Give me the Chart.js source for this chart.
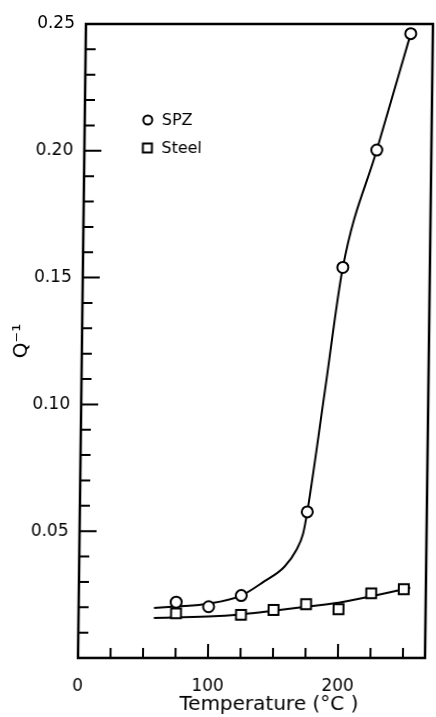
<!DOCTYPE html>
<html>
<head>
<meta charset="utf-8">
<script src="https://cdn.jsdelivr.net/npm/chart.js@4.4.1/dist/chart.umd.min.js"></script>
<style>
  html, body { margin: 0; padding: 0; background: #fff; }
  /* the scanned figure is slightly sheared: top edge sits ~8px right of the bottom */
  #wrap { width: 436px; height: 717px; transform: skewX(-0.72deg); transform-origin: 0 658px; }
</style>
</head>
<body>
<div id="wrap"><canvas id="chart" width="436" height="717"></canvas></div>
<script>
// measured points
const spzTemp = [75, 100, 125, 175, 200, 225, 250];
const spzQ = [0.0220, 0.0202, 0.0246, 0.0576, 0.1540, 0.2003, 0.2462];
const steelTemp = [75, 125, 150, 175, 200, 225, 250];
const steelQ = [0.0176, 0.0170, 0.0189, 0.0212, 0.0192, 0.0255, 0.0271];

// hand-drawn fit curves
const spzFitTemp = [58, 75, 100, 125, 142, 158, 167, 172, 175, 187.5, 200, 225, 250];
const spzFitQ = [0.0197, 0.0203, 0.0214, 0.0246, 0.0300, 0.0360, 0.0426, 0.0490, 0.0576, 0.1057, 0.1540, 0.2003, 0.2462];
const steelFitTemp = [58, 100, 125, 150, 175, 200, 225, 255];
const steelFitQ = [0.0158, 0.0164, 0.0172, 0.0186, 0.0202, 0.0218, 0.0243, 0.0277];

// axes
const xTicks = [0, 25, 50, 75, 100, 125, 150, 175, 200, 225, 250];
const xTickLabels = ['0', '', '', '', '100', '', '', '', '200', '', ''];
const yTicks = [0, 0.01, 0.02, 0.03, 0.04, 0.05, 0.06, 0.07, 0.08, 0.09, 0.10,
  0.11, 0.12, 0.13, 0.14, 0.15, 0.16, 0.17, 0.18, 0.19, 0.20,
  0.21, 0.22, 0.23, 0.24, 0.25];
const yMajor = [0.05, 0.10, 0.15, 0.20, 0.25];

const toXY = (xs, ys) => xs.map((v, i) => ({ x: v, y: ys[i] }));
const isMajorY = v => yMajor.some(m => Math.abs(m - v) < 1e-9);

Chart.defaults.font.family = 'DejaVu Sans';
Chart.defaults.color = '#000';

// frame, inward ticks, legend and x title
const axisMarks = {
  id: 'axisMarks',
  beforeDatasetsDraw(chart) {
    const { ctx, chartArea: a, scales: { x, y } } = chart;
    ctx.save();
    ctx.strokeStyle = '#000';
    ctx.lineWidth = 2.5;
    ctx.strokeRect(a.left, a.top, a.right - a.left, a.bottom - a.top);

    ctx.lineWidth = 2;
    ctx.beginPath();
    x.ticks.forEach((t, i) => {
      if (t.value === 0) return;
      const px = x.getPixelForValue(t.value);
      const len = xTickLabels[i] ? 14 : 10;
      ctx.moveTo(px, a.bottom);
      ctx.lineTo(px, a.bottom - len);
    });
    y.ticks.forEach(t => {
      if (t.value === 0 || t.value >= 0.25) return;
      const py = y.getPixelForValue(t.value);
      const len = isMajorY(t.value) ? 17 : 10;
      ctx.moveTo(a.left, py);
      ctx.lineTo(a.left + len, py);
    });
    ctx.stroke();

    // legend inside the plot, top-left
    const items = chart.data.datasets.filter(d => d.inLegend);
    items.forEach((d, i) => {
      const cx = 141, cy = 120 + i * 28;
      ctx.lineWidth = 2;
      ctx.fillStyle = '#fff';
      ctx.beginPath();
      if (d.pointStyle === 'circle') {
        ctx.arc(cx, cy, 4.5, 0, Math.PI * 2);
      } else {
        ctx.rect(cx - 4.5, cy - 4.5, 9, 9);
      }
      ctx.fill();
      ctx.stroke();
      ctx.fillStyle = '#000';
      ctx.font = '16px "DejaVu Sans"';
      ctx.textAlign = 'left';
      ctx.textBaseline = 'middle';
      ctx.fillText(d.label, cx + 14, cy + 1);
    });

    // x axis title (sits a little right of centre in the original)
    ctx.font = '20px "DejaVu Sans"';
    ctx.textAlign = 'center';
    ctx.textBaseline = 'middle';
    ctx.fillStyle = '#000';
    ctx.fillText('Temperature (°C )', (a.left + a.right) / 2 + 18, 705);
    ctx.restore();
  }
};

new Chart(document.getElementById('chart'), {
  type: 'scatter',
  data: {
    datasets: [
      {
        label: 'SPZ', inLegend: true,
        data: toXY(spzTemp, spzQ),
        pointStyle: 'circle', pointRadius: 5.5,
        pointBackgroundColor: '#fff', pointBorderColor: '#000', pointBorderWidth: 2
      },
      {
        label: 'Steel', inLegend: true,
        data: toXY(steelTemp, steelQ),
        pointStyle: 'rect', pointRadius: 7,
        pointBackgroundColor: '#fff', pointBorderColor: '#000', pointBorderWidth: 2
      },
      {
        label: 'SPZ fit',
        data: toXY(spzFitTemp, spzFitQ),
        showLine: true, pointRadius: 0, borderColor: '#000', borderWidth: 2,
        cubicInterpolationMode: 'monotone'
      },
      {
        label: 'Steel fit',
        data: toXY(steelFitTemp, steelFitQ),
        showLine: true, pointRadius: 0, borderColor: '#000', borderWidth: 2,
        tension: 0.35
      }
    ]
  },
  options: {
    responsive: false,
    animation: false,
    layout: { padding: { top: 24, right: 11, left: 0, bottom: 0 } },
    plugins: { legend: { display: false }, tooltip: { enabled: false } },
    scales: {
      x: {
        type: 'linear', min: 0, max: 267,
        afterBuildTicks: s => { s.ticks = xTicks.map(v => ({ value: v })); },
        afterFit: s => { s.height = 59; },
        grid: { display: false }, border: { display: false },
        ticks: {
          autoSkip: false, maxRotation: 0, padding: 10,
          font: { size: 17 },
          callback: (v, i) => xTickLabels[i]
        }
      },
      y: {
        type: 'linear', min: 0, max: 0.25,
        afterBuildTicks: s => { s.ticks = yTicks.map(v => ({ value: v })); },
        afterFit: s => { s.width = 78; },
        grid: { display: false }, border: { display: false },
        ticks: {
          autoSkip: false, padding: 3,
          font: { size: 17 },
          callback: v => isMajorY(v) ? v.toFixed(2) : ''
        },
        title: { display: true, text: 'Q⁻¹', font: { size: 20 }, padding: { top: 6 } }
      }
    }
  },
  plugins: [axisMarks]
});
</script>
</body>
</html>
